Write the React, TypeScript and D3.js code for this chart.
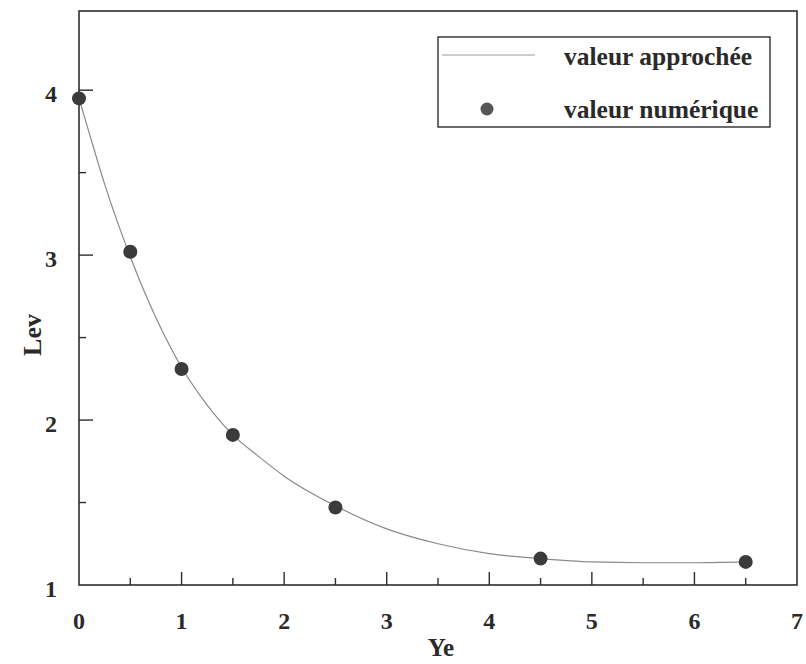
import React from "react";
import * as d3 from "d3";

const pointX = [0, 0.5, 1, 1.5, 2.5, 4.5, 6.5];
const pointY = [3.95, 3.02, 2.31, 1.91, 1.47, 1.16, 1.14];

const curveX = [0, 0.1, 0.25, 0.5, 0.75, 1, 1.25, 1.5, 1.75, 2, 2.5, 3, 3.5, 4, 4.5, 5, 5.5, 6, 6.5];
const curveY = [3.95, 3.74, 3.43, 2.99, 2.62, 2.32, 2.09, 1.91, 1.78, 1.66, 1.48, 1.34, 1.25, 1.19, 1.16, 1.14, 1.135, 1.135, 1.14];

const xTicks = [0, 1, 2, 3, 4, 5, 6, 7];
const xMinor = [0.5, 1.5, 2.5, 3.5, 4.5, 5.5, 6.5];
const yTicks = [1, 2, 3, 4];
const yMinor = [1.5, 2.5, 3.5];

const legendLabels = ["valeur approchée", "valeur numérique"];

const W = 806;
const H = 664;
const L = 79, R = 797, T = 11, B = 585;

export default function App() {
  const x = d3.scaleLinear().domain([0, 7]).range([L, R]);
  const y = d3.scaleLinear().domain([1, 4.48]).range([B, T]);
  const line = d3
    .line<number>()
    .x((_, i) => x(curveX[i]))
    .y((d) => y(d))
    .curve(d3.curveMonotoneX);
  const font = "'Liberation Serif', 'Times New Roman', serif";
  const axisColor = "#2e2e2e";
  return (
    <svg
      width={W}
      height={H}
      style={{ position: "absolute", left: 0, top: 0, background: "#fff" }}
      fontFamily={font}
    >
      <rect x={0} y={0} width={W} height={H} fill="#fff" />
      {/* frame */}
      <rect x={L} y={T} width={R - L} height={B - T} fill="none" stroke={axisColor} strokeWidth={1.6} />
      {/* x ticks */}
      {xTicks.map((t) => (
        <g key={"xt" + t}>
          {t > 0 && t < 7 && (
            <line x1={x(t)} x2={x(t)} y1={B} y2={B - 13} stroke={axisColor} strokeWidth={1.4} />
          )}
          <text x={x(t)} y={B + 44} textAnchor="middle" fontSize={24} fontWeight="bold" fill="#2a2a2a">
            {t}
          </text>
        </g>
      ))}
      {xMinor.map((t) => (
        <line key={"xm" + t} x1={x(t)} x2={x(t)} y1={B} y2={B - 7} stroke={axisColor} strokeWidth={1.4} />
      ))}
      {/* y ticks */}
      {yTicks.map((t) => (
        <g key={"yt" + t}>
          {t > 1 && <line x1={L} x2={L + 14} y1={y(t)} y2={y(t)} stroke={axisColor} strokeWidth={1.4} />}
          <text x={L - 22} y={y(t) + 12} textAnchor="end" fontSize={24} fontWeight="bold" fill="#2a2a2a">
            {t}
          </text>
        </g>
      ))}
      {yMinor.map((t) => (
        <line key={"ym" + t} x1={L} x2={L + 7} y1={y(t)} y2={y(t)} stroke={axisColor} strokeWidth={1.4} />
      ))}
      {/* axis titles */}
      <text x={(L + R) / 2 + 3} y={656} textAnchor="middle" fontSize={25} fontWeight="bold" fill="#2a2a2a">
        Ye
      </text>
      <text
        transform={`translate(41, 335) rotate(-90)`}
        textAnchor="middle"
        fontSize={26}
        fontWeight="bold"
        fill="#2a2a2a"
      >
        Lev
      </text>
      {/* curve */}
      <path d={line(curveY) || ""} fill="none" stroke="#8a8a8a" strokeWidth={1.2} />
      {/* points */}
      {pointX.map((px, i) => (
        <circle key={"p" + i} cx={x(px)} cy={y(pointY[i])} r={7} fill="#3a3c3b" />
      ))}
      {/* legend */}
      <rect x={438} y={37} width={332} height={90} fill="#fff" stroke={axisColor} strokeWidth={1.4} />
      <line x1={442} x2={535} y1={55} y2={55} stroke="#9a9a9a" strokeWidth={1} />
      <circle cx={487} cy={109} r={6.5} fill="#555755" />
      <text x={564} y={65} fontSize={25.5} fontWeight="bold" fill="#2a2a2a">
        {legendLabels[0]}
      </text>
      <text x={564} y={118} fontSize={25.5} fontWeight="bold" fill="#2a2a2a">
        {legendLabels[1]}
      </text>
    </svg>
  );
}
